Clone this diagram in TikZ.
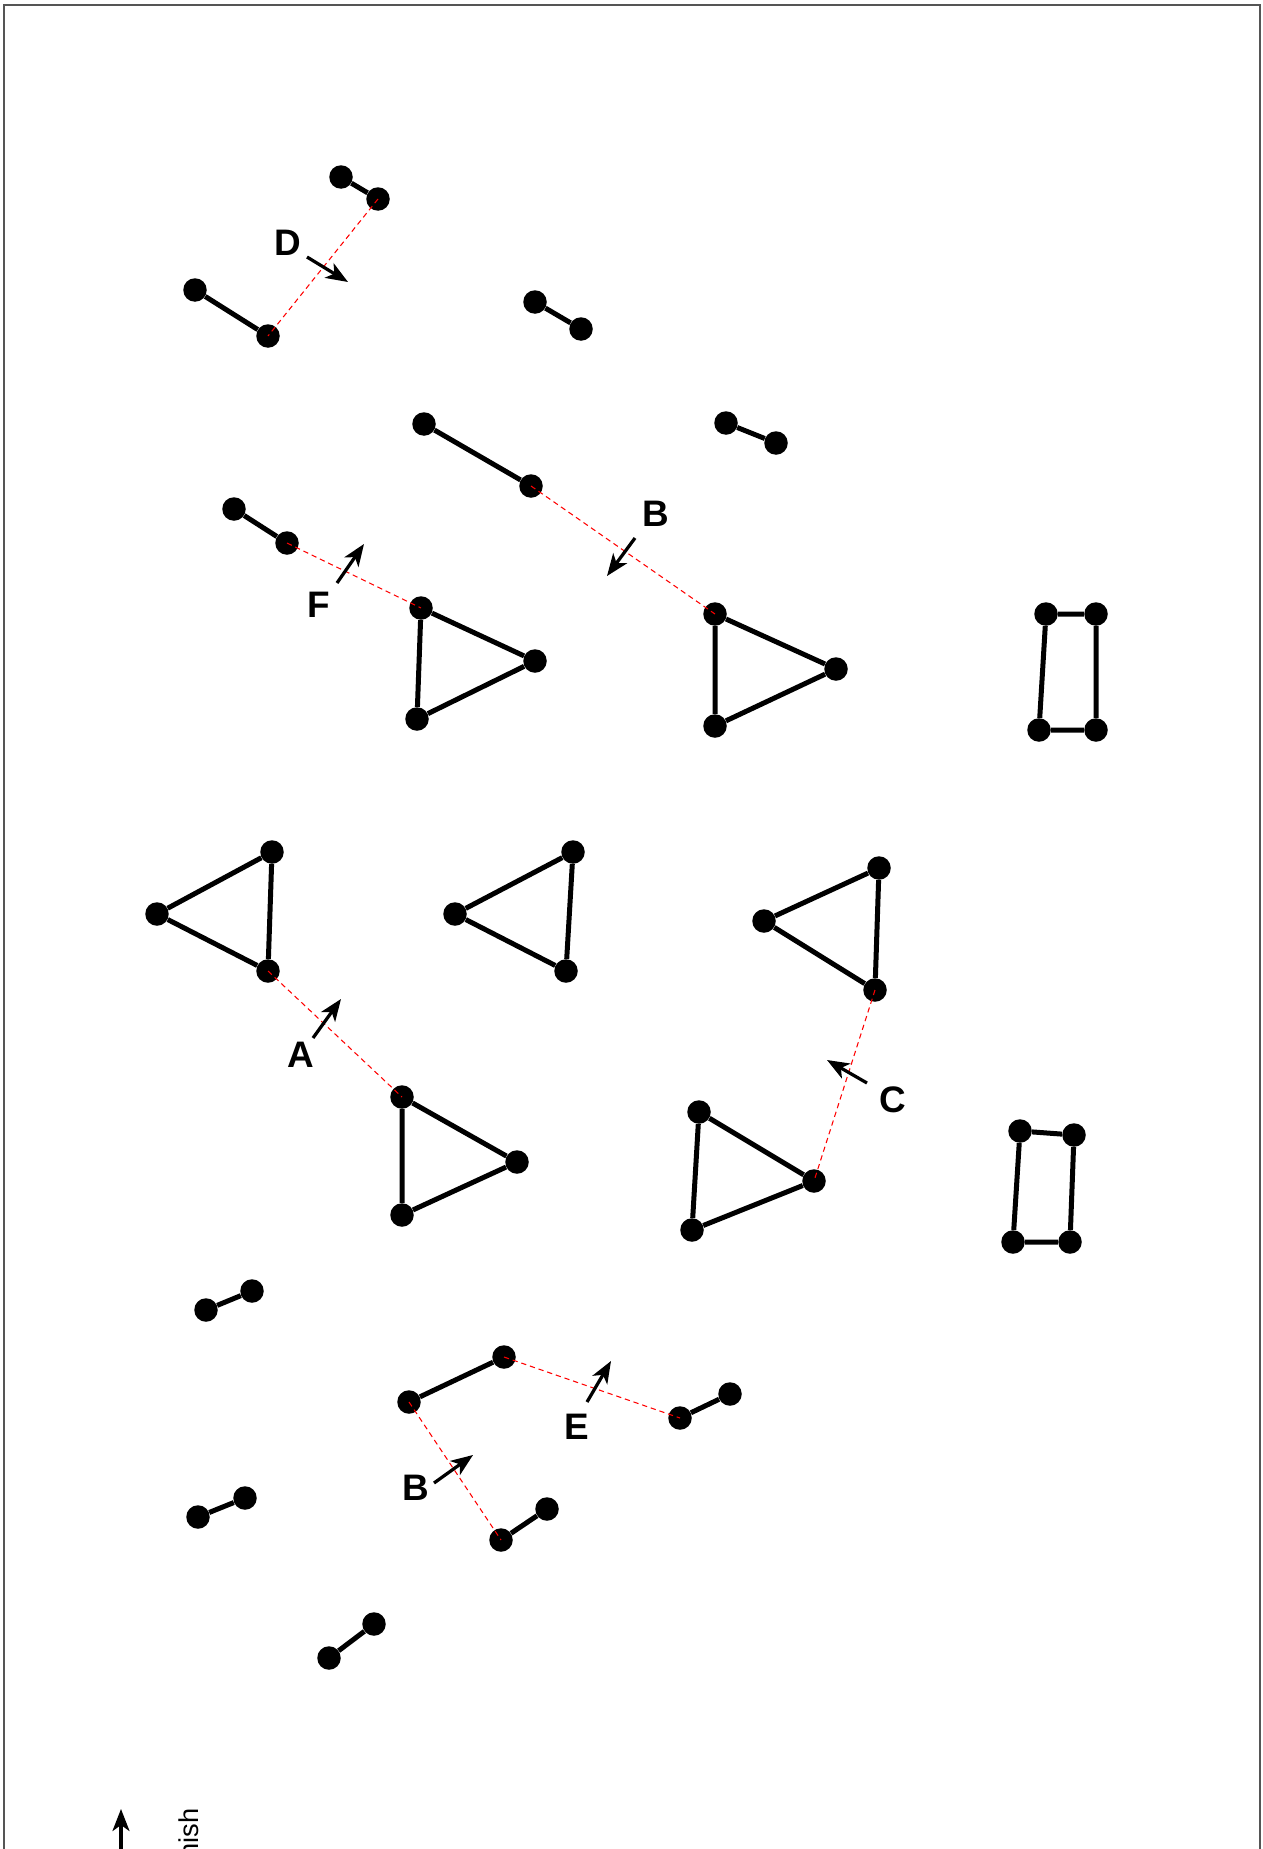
\documentclass[tikz,border=0pt]{standalone}
\usepackage{fontspec}
\setmainfont{Liberation Sans}
\usepackage{tikz}
\usetikzlibrary{arrows.meta}
\definecolor{linkred}{HTML}{FF0000}
\definecolor{framegray}{HTML}{555555}
\tikzset{
  atom/.style={circle, fill=black, inner sep=0pt, minimum size=0.47cm},
  bond/.style={draw=black, line width=0.1cm},
  link/.style={draw=linkred, line width=0.6pt, dash pattern=on 3pt off 2.2pt},
  move/.style={-{Stealth[length=0.44cm, width=0.34cm, inset=0.12cm]}, line width=0.065cm},
  tag/.style={font=\bfseries\fontsize{21}{21}\selectfont, inner sep=0pt}
}

\begin{document}
\begin{tikzpicture}[x=0.02cm, y=-0.02cm]
\useasboundingbox (0,0) rectangle (1263,1849);
\clip (0,0) rectangle (1263,1849);
\draw[framegray, line width=0.7pt] (4,1900) -- (4,5) -- (1260,5) -- (1260,1900);
\node[atom] (pa1) at (341,177) {}; \node[atom] (pa2) at (378,199) {};
\node[atom] (pb1) at (195,290) {}; \node[atom] (pb2) at (268,336) {};
\node[atom] (pc1) at (535,302) {}; \node[atom] (pc2) at (581,329) {};
\node[atom] (pd1) at (424,424) {}; \node[atom] (pd2) at (531,486) {};
\node[atom] (pe1) at (726,423) {}; \node[atom] (pe2) at (776,443) {};
\node[atom] (pf1) at (234,509) {}; \node[atom] (pf2) at (287,543) {};
\node[atom] (ta1) at (421,608) {}; \node[atom] (ta2) at (535,661) {}; \node[atom] (ta3) at (417,719) {};
\node[atom] (tb1) at (715,614) {}; \node[atom] (tb2) at (836,669) {}; \node[atom] (tb3) at (715,726) {};
\node[atom] (ra1) at (1046,614) {}; \node[atom] (ra2) at (1096,614) {};
\node[atom] (ra3) at (1096,730) {}; \node[atom] (ra4) at (1039,730) {};
\node[atom] (tc1) at (272,852) {}; \node[atom] (tc2) at (157,914) {}; \node[atom] (tc3) at (268,971) {};
\node[atom] (td1) at (573,852) {}; \node[atom] (td2) at (455,914) {}; \node[atom] (td3) at (566,971) {};
\node[atom] (te1) at (879,868) {}; \node[atom] (te2) at (764,921) {}; \node[atom] (te3) at (875,990) {};
\node[atom] (tf1) at (402,1097) {}; \node[atom] (tf2) at (517,1162) {}; \node[atom] (tf3) at (402,1215) {};
\node[atom] (tg1) at (699,1112) {}; \node[atom] (tg2) at (814,1181) {}; \node[atom] (tg3) at (692,1230) {};
\node[atom] (rb1) at (1020,1131) {}; \node[atom] (rb2) at (1074,1135) {};
\node[atom] (rb3) at (1070,1242) {}; \node[atom] (rb4) at (1013,1242) {};
\node[atom] (pg1) at (206,1310) {}; \node[atom] (pg2) at (252,1291) {};
\node[atom] (ph1) at (409,1402) {}; \node[atom] (ph2) at (504,1357) {};
\node[atom] (pi1) at (680,1418) {}; \node[atom] (pi2) at (730,1394) {};
\node[atom] (pj1) at (198,1517) {}; \node[atom] (pj2) at (245,1498) {};
\node[atom] (pk1) at (501,1540) {}; \node[atom] (pk2) at (547,1509) {};
\node[atom] (pl1) at (329,1658) {}; \node[atom] (pl2) at (374,1624) {};
\draw[bond] (pa1)--(pa2); \draw[bond] (pb1)--(pb2); \draw[bond] (pc1)--(pc2);
\draw[bond] (pd1)--(pd2); \draw[bond] (pe1)--(pe2); \draw[bond] (pf1)--(pf2);
\draw[bond] (pg1)--(pg2); \draw[bond] (ph1)--(ph2); \draw[bond] (pi1)--(pi2);
\draw[bond] (pj1)--(pj2); \draw[bond] (pk1)--(pk2); \draw[bond] (pl1)--(pl2);
\draw[bond] (ta1)--(ta2)--(ta3)--(ta1); \draw[bond] (tb1)--(tb2)--(tb3)--(tb1);
\draw[bond] (tc1)--(tc2)--(tc3)--(tc1); \draw[bond] (td1)--(td2)--(td3)--(td1);
\draw[bond] (te1)--(te2)--(te3)--(te1); \draw[bond] (tf1)--(tf2)--(tf3)--(tf1);
\draw[bond] (tg1)--(tg2)--(tg3)--(tg1);
\draw[bond] (ra1)--(ra2)--(ra3)--(ra4)--(ra1); \draw[bond] (rb1)--(rb2)--(rb3)--(rb4)--(rb1);
\draw[link] (pa2.center)--(pb2.center); \draw[link] (pd2.center)--(tb1.center);
\draw[link] (pf2.center)--(ta1.center); \draw[link] (tc3.center)--(tf1.center);
\draw[link] (te3.center)--(tg2.center); \draw[link] (ph2.center)--(pi1.center);
\draw[link] (ph1.center)--(pk1.center);
\coordinate (dtail) at (307,257); \coordinate (dhead) at (348,282);
\coordinate (btail) at (635,538); \coordinate (bhead) at (607,576);
\coordinate (ftail) at (337,583); \coordinate (fhead) at (364,544);
\coordinate (atail) at (313,1038); \coordinate (ahead) at (341,999);
\coordinate (ctail) at (867,1083); \coordinate (chead) at (827,1060);
\coordinate (etail) at (587,1402); \coordinate (ehead) at (611,1361);
\coordinate (b2tail) at (434,1483); \coordinate (b2head) at (473,1455);
\coordinate (uptail) at (121,1870); \coordinate (uphead) at (121,1809);
\draw[move] (dtail)--(dhead); \draw[move] (btail)--(bhead); \draw[move] (ftail)--(fhead);
\draw[move] (atail)--(ahead); \draw[move] (ctail)--(chead); \draw[move] (etail)--(ehead);
\draw[move] (b2tail)--(b2head); \draw[move] (uptail)--(uphead);
\node[tag] (dlab) at (288,243) {D};
\node[tag] (blab) at (656,514) {B};
\node[tag] (flab) at (319,605) {F};
\node[tag] (alab) at (301,1055) {A};
\node[tag] (clab) at (893,1100) {C};
\node[tag] (elab) at (577,1427) {E};
\node[tag] (b2lab) at (416,1488) {B};
\node[font=\fontsize{15.5}{15.5}\selectfont, rotate=90, anchor=base east, inner sep=0pt] (finish) at (198,1808) {nish};
\end{tikzpicture}
\end{document}
